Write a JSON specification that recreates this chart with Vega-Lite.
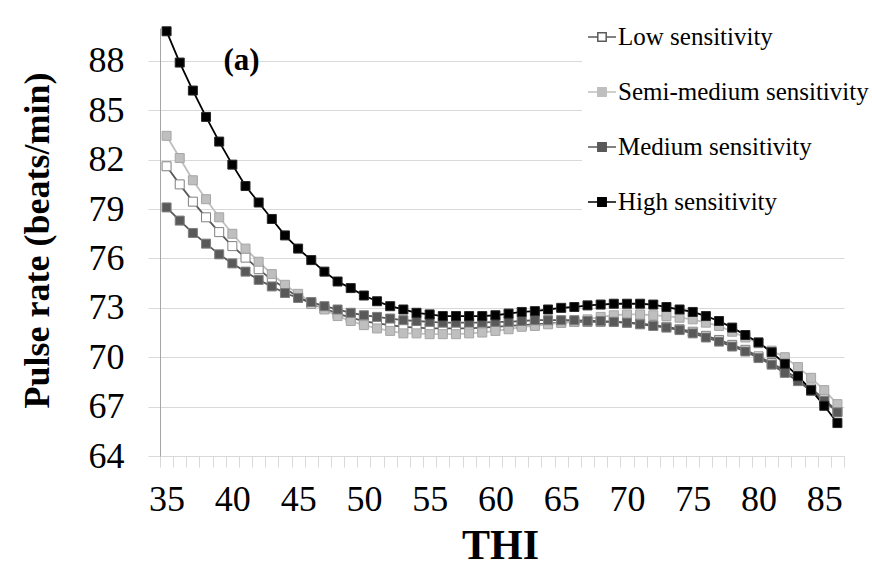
{
  "$schema": "https://vega.github.io/schema/vega-lite/v6.json",
  "width": 684,
  "height": 428,
  "autosize": {"type": "none"},
  "padding": {"left": 160, "top": 28, "right": 28, "bottom": 115},
  "background": "white",
  "config": {
    "view": {"stroke": null},
    "font": "Liberation Serif",
    "axis": {"labelFont": "Liberation Serif", "titleFont": "Liberation Serif"},
    "legend": {"labelFont": "Liberation Serif", "titleFont": "Liberation Serif"},
    "text": {"font": "Liberation Serif"}
  },
  "datasets": {
    "pulse": [
      {"THI": 35, "Low sensitivity": 81.6, "Semi-medium sensitivity": 83.45, "Medium sensitivity": 79.1, "High sensitivity": 89.8},
      {"THI": 36, "Low sensitivity": 80.5, "Semi-medium sensitivity": 82.1, "Medium sensitivity": 78.3, "High sensitivity": 87.9},
      {"THI": 37, "Low sensitivity": 79.45, "Semi-medium sensitivity": 80.75, "Medium sensitivity": 77.55, "High sensitivity": 86.2},
      {"THI": 38, "Low sensitivity": 78.5, "Semi-medium sensitivity": 79.6, "Medium sensitivity": 76.9, "High sensitivity": 84.6},
      {"THI": 39, "Low sensitivity": 77.6, "Semi-medium sensitivity": 78.5, "Medium sensitivity": 76.25, "High sensitivity": 83.1},
      {"THI": 40, "Low sensitivity": 76.75, "Semi-medium sensitivity": 77.5, "Medium sensitivity": 75.7, "High sensitivity": 81.7},
      {"THI": 41, "Low sensitivity": 76.05, "Semi-medium sensitivity": 76.6, "Medium sensitivity": 75.2, "High sensitivity": 80.4},
      {"THI": 42, "Low sensitivity": 75.35, "Semi-medium sensitivity": 75.8, "Medium sensitivity": 74.7, "High sensitivity": 79.4},
      {"THI": 43, "Low sensitivity": 74.7, "Semi-medium sensitivity": 75.05, "Medium sensitivity": 74.3, "High sensitivity": 78.4},
      {"THI": 44, "Low sensitivity": 74.2, "Semi-medium sensitivity": 74.4, "Medium sensitivity": 73.9, "High sensitivity": 77.4},
      {"THI": 45, "Low sensitivity": 73.65, "Semi-medium sensitivity": 73.85, "Medium sensitivity": 73.6, "High sensitivity": 76.6},
      {"THI": 46, "Low sensitivity": 73.25, "Semi-medium sensitivity": 73.35, "Medium sensitivity": 73.35, "High sensitivity": 75.9},
      {"THI": 47, "Low sensitivity": 72.95, "Semi-medium sensitivity": 72.9, "Medium sensitivity": 73.1, "High sensitivity": 75.2},
      {"THI": 48, "Low sensitivity": 72.65, "Semi-medium sensitivity": 72.5, "Medium sensitivity": 72.9, "High sensitivity": 74.6},
      {"THI": 49, "Low sensitivity": 72.4, "Semi-medium sensitivity": 72.2, "Medium sensitivity": 72.7, "High sensitivity": 74.2},
      {"THI": 50, "Low sensitivity": 72.2, "Semi-medium sensitivity": 71.95, "Medium sensitivity": 72.55, "High sensitivity": 73.75},
      {"THI": 51, "Low sensitivity": 72.05, "Semi-medium sensitivity": 71.75, "Medium sensitivity": 72.45, "High sensitivity": 73.4},
      {"THI": 52, "Low sensitivity": 71.95, "Semi-medium sensitivity": 71.6, "Medium sensitivity": 72.35, "High sensitivity": 73.1},
      {"THI": 53, "Low sensitivity": 71.85, "Semi-medium sensitivity": 71.45, "Medium sensitivity": 72.25, "High sensitivity": 72.9},
      {"THI": 54, "Low sensitivity": 71.8, "Semi-medium sensitivity": 71.45, "Medium sensitivity": 72.2, "High sensitivity": 72.7},
      {"THI": 55, "Low sensitivity": 71.75, "Semi-medium sensitivity": 71.4, "Medium sensitivity": 72.15, "High sensitivity": 72.6},
      {"THI": 56, "Low sensitivity": 71.75, "Semi-medium sensitivity": 71.4, "Medium sensitivity": 72.1, "High sensitivity": 72.5},
      {"THI": 57, "Low sensitivity": 71.75, "Semi-medium sensitivity": 71.4, "Medium sensitivity": 72.1, "High sensitivity": 72.5},
      {"THI": 58, "Low sensitivity": 71.75, "Semi-medium sensitivity": 71.45, "Medium sensitivity": 72.1, "High sensitivity": 72.5},
      {"THI": 59, "Low sensitivity": 71.8, "Semi-medium sensitivity": 71.5, "Medium sensitivity": 72.1, "High sensitivity": 72.5},
      {"THI": 60, "Low sensitivity": 71.85, "Semi-medium sensitivity": 71.6, "Medium sensitivity": 72.15, "High sensitivity": 72.55},
      {"THI": 61, "Low sensitivity": 71.9, "Semi-medium sensitivity": 71.7, "Medium sensitivity": 72.15, "High sensitivity": 72.65},
      {"THI": 62, "Low sensitivity": 71.95, "Semi-medium sensitivity": 71.85, "Medium sensitivity": 72.2, "High sensitivity": 72.75},
      {"THI": 63, "Low sensitivity": 72.0, "Semi-medium sensitivity": 71.9, "Medium sensitivity": 72.25, "High sensitivity": 72.8},
      {"THI": 64, "Low sensitivity": 72.05, "Semi-medium sensitivity": 72.0, "Medium sensitivity": 72.25, "High sensitivity": 72.9},
      {"THI": 65, "Low sensitivity": 72.1, "Semi-medium sensitivity": 72.1, "Medium sensitivity": 72.25, "High sensitivity": 73.0},
      {"THI": 66, "Low sensitivity": 72.15, "Semi-medium sensitivity": 72.15, "Medium sensitivity": 72.25, "High sensitivity": 73.05},
      {"THI": 67, "Low sensitivity": 72.15, "Semi-medium sensitivity": 72.3, "Medium sensitivity": 72.2, "High sensitivity": 73.15},
      {"THI": 68, "Low sensitivity": 72.15, "Semi-medium sensitivity": 72.45, "Medium sensitivity": 72.2, "High sensitivity": 73.2},
      {"THI": 69, "Low sensitivity": 72.15, "Semi-medium sensitivity": 72.55, "Medium sensitivity": 72.15, "High sensitivity": 73.25},
      {"THI": 70, "Low sensitivity": 72.1, "Semi-medium sensitivity": 72.6, "Medium sensitivity": 72.1, "High sensitivity": 73.25},
      {"THI": 71, "Low sensitivity": 72.05, "Semi-medium sensitivity": 72.6, "Medium sensitivity": 72.0, "High sensitivity": 73.25},
      {"THI": 72, "Low sensitivity": 71.95, "Semi-medium sensitivity": 72.55, "Medium sensitivity": 71.9, "High sensitivity": 73.2},
      {"THI": 73, "Low sensitivity": 71.85, "Semi-medium sensitivity": 72.5, "Medium sensitivity": 71.8, "High sensitivity": 73.05},
      {"THI": 74, "Low sensitivity": 71.7, "Semi-medium sensitivity": 72.4, "Medium sensitivity": 71.65, "High sensitivity": 72.9},
      {"THI": 75, "Low sensitivity": 71.55, "Semi-medium sensitivity": 72.3, "Medium sensitivity": 71.45, "High sensitivity": 72.75},
      {"THI": 76, "Low sensitivity": 71.3, "Semi-medium sensitivity": 72.1, "Medium sensitivity": 71.2, "High sensitivity": 72.5},
      {"THI": 77, "Low sensitivity": 71.05, "Semi-medium sensitivity": 71.9, "Medium sensitivity": 70.95, "High sensitivity": 72.2},
      {"THI": 78, "Low sensitivity": 70.75, "Semi-medium sensitivity": 71.55, "Medium sensitivity": 70.65, "High sensitivity": 71.8},
      {"THI": 79, "Low sensitivity": 70.45, "Semi-medium sensitivity": 71.2, "Medium sensitivity": 70.35, "High sensitivity": 71.35},
      {"THI": 80, "Low sensitivity": 70.05, "Semi-medium sensitivity": 70.85, "Medium sensitivity": 69.95, "High sensitivity": 70.9},
      {"THI": 81, "Low sensitivity": 69.65, "Semi-medium sensitivity": 70.4, "Medium sensitivity": 69.55, "High sensitivity": 70.3},
      {"THI": 82, "Low sensitivity": 69.2, "Semi-medium sensitivity": 70.0, "Medium sensitivity": 69.05, "High sensitivity": 69.6},
      {"THI": 83, "Low sensitivity": 68.7, "Semi-medium sensitivity": 69.4, "Medium sensitivity": 68.55, "High sensitivity": 68.85},
      {"THI": 84, "Low sensitivity": 68.1, "Semi-medium sensitivity": 68.75, "Medium sensitivity": 67.95, "High sensitivity": 68.0},
      {"THI": 85, "Low sensitivity": 67.45, "Semi-medium sensitivity": 68.0, "Medium sensitivity": 67.35, "High sensitivity": 67.05},
      {"THI": 86, "Low sensitivity": 66.7, "Semi-medium sensitivity": 67.15, "Medium sensitivity": 66.65, "High sensitivity": 66.0}
    ],
    "note": [{"THI": 40.7, "rate": 88, "label": "(a)"}]
  },
  "encoding": {
    "x": {
      "field": "THI",
      "type": "quantitative",
      "scale": {"domain": [34.5, 86.5], "nice": false, "zero": false},
      "axis": {
        "values": [34.5,35.5,36.5,37.5,38.5,39.5,40.5,41.5,42.5,43.5,44.5,45.5,46.5,47.5,48.5,49.5,50.5,51.5,52.5,53.5,54.5,55.5,56.5,57.5,58.5,59.5,60.5,61.5,62.5,63.5,64.5,65.5,66.5,67.5,68.5,69.5,70.5,71.5,72.5,73.5,74.5,75.5,76.5,77.5,78.5,79.5,80.5,81.5,82.5,83.5,84.5,85.5,86.5],
        "labelExpr": "(datum.value + 0.5) % 5 == 0 ? toString(datum.value + 0.5) : ''",
        "labelOffset": 6.6,
        "labelOverlap": false,
        "labelFlush": false,
        "labelBound": false,
        "labelFont": "Liberation Serif",
        "labelFontSize": 36,
        "labelColor": "black",
        "labelBaseline": "middle",
        "labelPadding": 32,
        "tickSize": 11,
        "tickColor": "#d9d9d9",
        "tickWidth": 1,
        "domainColor": "#d9d9d9",
        "domainWidth": 1,
        "grid": false,
        "title": "THI",
        "titleFont": "Liberation Serif",
        "titleFontSize": 42,
        "titleFontWeight": "bold",
        "titleColor": "black",
        "titleBaseline": "middle",
        "titleAlign": "center",
        "titleX": 340,
        "titleY": 89
      }
    },
    "y": {
      "field": "rate",
      "type": "quantitative",
      "scale": {"domain": [64, 90], "nice": false, "zero": false},
      "axis": {
        "values": [64, 67, 70, 73, 76, 79, 82, 85, 88],
        "labelFont": "Liberation Serif",
        "labelFontSize": 36,
        "labelColor": "black",
        "labelPadding": 24,
        "tickSize": 12,
        "tickColor": "#d9d9d9",
        "domainColor": "#a6a6a6",
        "grid": true,
        "gridColor": "#d9d9d9",
        "gridWidth": 1,
        "title": "Pulse rate (beats/min)",
        "titleFont": "Liberation Serif",
        "titleFontSize": 36,
        "titleFontWeight": "bold",
        "titleColor": "black",
        "titleAngle": -90,
        "titleBaseline": "middle",
        "titleAlign": "center",
        "titleX": -123,
        "titleY": 212
      }
    }
  },
  "layer": [
    {
      "data": {"name": "pulse"},
      "transform": [{"fold": ["Low sensitivity", "Semi-medium sensitivity", "Medium sensitivity", "High sensitivity"], "as": ["series", "rate"]}],
      "mark": {"type": "line", "strokeWidth": 1.8},
      "encoding": {
        "color": {
          "field": "series",
          "type": "nominal",
          "scale": {"domain": ["Low sensitivity", "Semi-medium sensitivity", "Medium sensitivity", "High sensitivity"], "range": ["#5a5a5a", "#bfbfbf", "#595959", "#000000"]},
          "legend": {
            "title": null,
            "orient": "none",
            "legendX": 422,
            "legendY": -11,
            "symbolType": "M-1,0H-0.3M0.3,0H1M-0.3,-0.3H0.3V0.3H-0.3Z",
            "symbolSize": 784,
            "symbolStrokeWidth": 1.5,
            "labelFontSize": 25,
            "labelColor": "black",
            "labelLimit": 400,
            "labelOffset": 1,
            "rowPadding": 27,
            "fillColor": "white",
            "padding": 5
          }
        }
      }
    },
    {
      "data": {"name": "pulse"},
      "transform": [{"fold": ["Low sensitivity", "Semi-medium sensitivity", "Medium sensitivity", "High sensitivity"], "as": ["series", "rate"]}],
      "mark": {"type": "point", "shape": "square", "filled": true, "size": 81, "strokeWidth": 1, "opacity": 1},
      "encoding": {
        "fill": {
          "field": "series",
          "type": "nominal",
          "scale": {"domain": ["Low sensitivity", "Semi-medium sensitivity", "Medium sensitivity", "High sensitivity"], "range": ["#ffffff", "#bfbfbf", "#595959", "#000000"]},
          "legend": {
            "title": null,
            "orient": "none",
            "legendX": 422,
            "legendY": -11,
            "symbolType": "M-1,0H-0.3M0.3,0H1M-0.3,-0.3H0.3V0.3H-0.3Z",
            "symbolSize": 784,
            "symbolStrokeWidth": 1.5,
            "labelFontSize": 25,
            "labelColor": "black",
            "labelLimit": 400,
            "labelOffset": 1,
            "rowPadding": 27,
            "fillColor": "white",
            "padding": 5
          }
        },
        "stroke": {
          "field": "series",
          "type": "nominal",
          "scale": {"domain": ["Low sensitivity", "Semi-medium sensitivity", "Medium sensitivity", "High sensitivity"], "range": ["#7f7f7f", "#a6a6a6", "#7f7f7f", "#262626"]},
          "legend": {
            "title": null,
            "orient": "none",
            "legendX": 422,
            "legendY": -11,
            "symbolType": "M-1,0H-0.3M0.3,0H1M-0.3,-0.3H0.3V0.3H-0.3Z",
            "symbolSize": 784,
            "symbolStrokeWidth": 1.5,
            "labelFontSize": 25,
            "labelColor": "black",
            "labelLimit": 400,
            "labelOffset": 1,
            "rowPadding": 27,
            "fillColor": "white",
            "padding": 5
          }
        }
      }
    },
    {
      "data": {"name": "note"},
      "mark": {"type": "text", "font": "Liberation Serif", "fontSize": 31, "fontWeight": "bold", "color": "black", "align": "center", "baseline": "middle"},
      "encoding": {"text": {"field": "label", "type": "nominal"}}
    }
  ]
}
